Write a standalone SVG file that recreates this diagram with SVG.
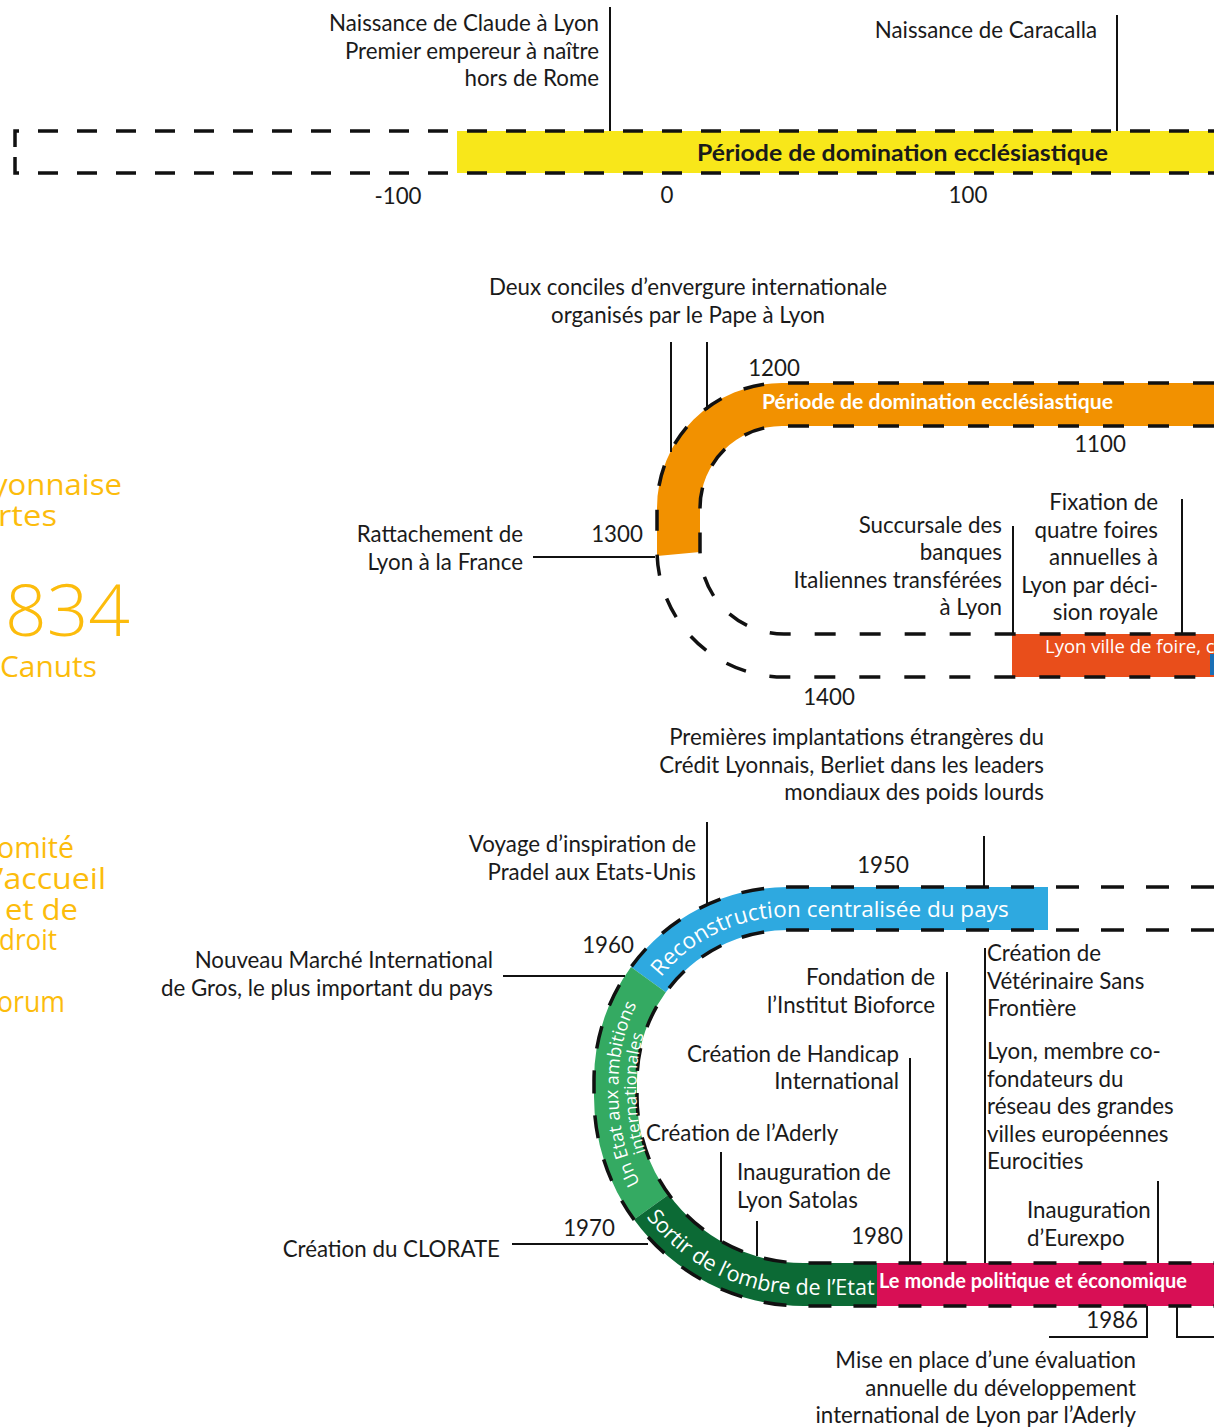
<svg xmlns="http://www.w3.org/2000/svg" width="1214" height="1428" viewBox="0 0 1214 1428">
<style>
.lbl{font-family:Lato,"Liberation Sans",sans-serif;font-size:22.3px;fill:#1a1a1a}
.e{text-anchor:end}
.m{text-anchor:middle}
.bold{font-weight:700}
.wt{font-family:"Open Sans","Liberation Sans",sans-serif;fill:#fff}
.yel{font-family:"Open Sans","Liberation Sans",sans-serif;font-weight:400;fill:#FCBC0C;font-size:29px}
.big{font-size:72px;font-weight:300}
.dA{fill:none;stroke:#111;stroke-width:3.5;stroke-dasharray:20 19}
.dB{fill:none;stroke:#111;stroke-width:3.5;stroke-dasharray:21 24}
.dC{fill:none;stroke:#111;stroke-width:3.5;stroke-dasharray:23 22}
.lead{fill:none;stroke:#111;stroke-width:2}
</style>
<defs>
<path id="p-recon" d="M655.3 984.6 A164 164 0 0 1 788 917 H1060"/>
<path id="p-sortir" d="M643.3 1212.9 A198 198 0 0 0 803.5 1294.5 H880"/>
<path id="p-etat1" d="M661.8 1215.4 A185 185 0 0 1 618.5 1096.5 V1081 A169.5 169.5 0 0 1 658.2 972.1"/>
<path id="p-etat2" d="M674.1 1202.5 A167 167 0 0 1 636.5 1096.5 V1081 A151.5 151.5 0 0 1 672 983.6"/>
</defs>
<rect width="1214" height="1428" fill="#fff"/>

<g id="left-column">
<text class="yel" x="-8" y="495" textLength="130" lengthAdjust="spacingAndGlyphs">yonnaise</text>
<text class="yel" x="-2" y="526" textLength="59" lengthAdjust="spacingAndGlyphs">rtes</text>
<text class="yel big" x="5" y="636" textLength="125" lengthAdjust="spacingAndGlyphs">834</text>
<text class="yel" x="0" y="677" textLength="97" lengthAdjust="spacingAndGlyphs">Canuts</text>
<text class="yel" x="-3" y="858" textLength="77" lengthAdjust="spacingAndGlyphs">omité</text>
<text class="yel" x="-2" y="889" textLength="108" lengthAdjust="spacingAndGlyphs">’accueil</text>
<text class="yel" x="5" y="920" textLength="73" lengthAdjust="spacingAndGlyphs">et de</text>
<text class="yel" x="-1" y="950" textLength="58" lengthAdjust="spacingAndGlyphs">droit</text>
<text class="yel" x="-3" y="1012" textLength="68" lengthAdjust="spacingAndGlyphs">orum</text>
</g>

<g id="band-antiquity">
<rect x="457" y="131" width="757" height="42" fill="#F8E71A"/>
<path class="dA" d="M15 147 V131 H1214"/>
<path class="dA" d="M15 157 V173 H1214"/>
<text class="lbl bold m" x="902.5" y="161" style="font-size:23px" textLength="411" lengthAdjust="spacingAndGlyphs">Période de domination ecclésiastique</text>
</g>

<g id="band-middle-ages">
<path d="M1214 383 H782 A125 125 0 0 0 657 508 V556 L700 552 V508 A82 82 0 0 1 782 426 H1214 Z" fill="#F29100"/>
<rect x="1012" y="634" width="202" height="43" fill="#E94E1B"/>
<rect x="1210" y="654" width="4" height="21" fill="#1B6FB5"/>
<path class="dB" d="M1214 383 H782 A125 125 0 0 0 657 508 V550 A127 127 0 0 0 784 677 H1214"/>
<path class="dB" d="M1214 426 H782 A82 82 0 0 0 700 508 V550 A84 84 0 0 0 784 634 H1214"/>
<text class="lbl bold m" x="937.5" y="409" style="fill:#fff;font-size:20px" textLength="351" lengthAdjust="spacingAndGlyphs">Période de domination ecclésiastique</text>
<text class="wt" x="1045" y="653" font-size="18.5">Lyon ville de foire, c</text>
</g>

<g id="band-modern">
<path d="M1048 887 H788 A194 194 0 0 0 631 967 L665.8 992.2 A151 151 0 0 1 788 930 H1048 Z" fill="#2EA9E0"/>
<path d="M631 967 A194 194 0 0 0 594 1081 V1096.5 A209.5 209.5 0 0 0 634 1219.6 L668.8 1194.4 A166.5 166.5 0 0 1 637 1096.5 V1081 A151 151 0 0 1 665.8 992.2 Z" fill="#34AA62"/>
<path d="M634 1219.6 A209.5 209.5 0 0 0 803.5 1306 H877 V1263 H803.5 A166.5 166.5 0 0 1 668.8 1194.4 Z" fill="#0C6A35"/>
<rect x="877" y="1263" width="337" height="43" fill="#D80F55"/>
<path class="dC" d="M1214 887 H788 A194 194 0 0 0 594 1081 V1096.5 A209.5 209.5 0 0 0 803.5 1306 H1214"/>
<path class="dC" d="M1214 930 H788 A151 151 0 0 0 637 1081 V1096.5 A166.5 166.5 0 0 0 803.5 1263 H1214"/>
<text class="wt" font-size="22.5"><textPath href="#p-recon" startOffset="9">Reconstruction centralisée du pays</textPath></text>
<text class="wt" font-size="18" text-anchor="middle"><textPath href="#p-etat1" startOffset="50%">Un Etat aux ambitions</textPath></text>
<text class="wt" font-size="17" text-anchor="middle"><textPath href="#p-etat2" startOffset="50%">internationales</textPath></text>
<text class="wt" font-size="21.5"><textPath href="#p-sortir" startOffset="5">Sortir de l’ombre de l’Etat</textPath></text>
<text class="lbl bold" x="879" y="1288" style="fill:#fff;font-size:20px" textLength="308" lengthAdjust="spacingAndGlyphs">Le monde politique et économique</text>
</g>

<g id="connectors">
<path class="lead" d="M610 7 V131"/>
<path class="lead" d="M1117 15 V131"/>
<path class="lead" d="M671 342 V452"/>
<path class="lead" d="M707 342 V410"/>
<path class="lead" d="M533 557 H655"/>
<path class="lead" d="M1013 526 V634"/>
<path class="lead" d="M1182 499 V634"/>
<path class="lead" d="M984 836 V887"/>
<path class="lead" d="M707 822 V905"/>
<path class="lead" d="M503 976 H625"/>
<path class="lead" d="M947 972 V1263"/>
<path class="lead" d="M985 948 V1263"/>
<path class="lead" d="M910 1058 V1263"/>
<path class="lead" d="M721 1152 V1242"/>
<path class="lead" d="M757 1221 V1256"/>
<path class="lead" d="M512 1244 H648"/>
<path class="lead" d="M1158 1181 V1263"/>
<path class="lead" d="M1049 1337 H1147 V1306"/>
<path class="lead" d="M1177 1306 V1337 H1214"/>
</g>

<g id="ev-claude"><text class="lbl e" x="599" y="31">Naissance de Claude à Lyon</text><text class="lbl e" x="599" y="59">Premier empereur à naître</text><text class="lbl e" x="599" y="86">hors de Rome</text></g>
<g id="ev-caracalla"><text class="lbl e" x="1097" y="38">Naissance de Caracalla</text></g>
<g id="axis-top"><text class="lbl m" x="398" y="204">-100</text><text class="lbl m" x="667" y="203">0</text><text class="lbl m" x="968" y="203">100</text></g>

<g id="ev-conciles"><text class="lbl m" x="688" y="295">Deux conciles d’envergure internationale</text><text class="lbl m" x="688" y="323">organisés par le Pape à Lyon</text></g>
<g id="axis-middle"><text class="lbl m" x="774" y="376">1200</text><text class="lbl m" x="1100" y="452">1100</text><text class="lbl m" x="617" y="542">1300</text><text class="lbl m" x="829" y="705">1400</text></g>
<g id="ev-rattachement"><text class="lbl e" x="523" y="542">Rattachement de</text><text class="lbl e" x="523" y="570">Lyon à la France</text></g>
<g id="ev-succursale"><text class="lbl e" x="1002" y="533">Succursale des</text><text class="lbl e" x="1002" y="560">banques</text><text class="lbl e" x="1002" y="588">Italiennes transférées</text><text class="lbl e" x="1002" y="615">à Lyon</text></g>
<g id="ev-foires"><text class="lbl e" x="1158" y="510">Fixation de</text><text class="lbl e" x="1158" y="538">quatre foires</text><text class="lbl e" x="1158" y="565">annuelles à</text><text class="lbl e" x="1158" y="593">Lyon par déci-</text><text class="lbl e" x="1158" y="620">sion royale</text></g>

<g id="ev-implantations"><text class="lbl e" x="1044" y="745">Premières implantations étrangères du</text><text class="lbl e" x="1044" y="773">Crédit Lyonnais, Berliet dans les leaders</text><text class="lbl e" x="1044" y="800">mondiaux des poids lourds</text></g>
<g id="ev-pradel"><text class="lbl e" x="696" y="852">Voyage d’inspiration de</text><text class="lbl e" x="696" y="880">Pradel aux Etats-Unis</text></g>
<g id="axis-bottom"><text class="lbl m" x="883" y="873">1950</text><text class="lbl m" x="608" y="953">1960</text><text class="lbl m" x="589" y="1236">1970</text><text class="lbl m" x="877" y="1244">1980</text><text class="lbl e" x="1138" y="1328">1986</text></g>
<g id="ev-marche"><text class="lbl e" x="493" y="968">Nouveau Marché International</text><text class="lbl e" x="493" y="996">de Gros, le plus important du pays</text></g>
<g id="ev-bioforce"><text class="lbl e" x="935" y="985">Fondation de</text><text class="lbl e" x="935" y="1013">l’Institut Bioforce</text></g>
<g id="ev-vsf"><text class="lbl" x="987" y="961">Création de</text><text class="lbl" x="987" y="989">Vétérinaire Sans</text><text class="lbl" x="987" y="1016">Frontière</text></g>
<g id="ev-eurocities"><text class="lbl" x="987" y="1059">Lyon, membre co-</text><text class="lbl" x="987" y="1087">fondateurs du</text><text class="lbl" x="987" y="1114">réseau des grandes</text><text class="lbl" x="987" y="1142">villes européennes</text><text class="lbl" x="987" y="1169">Eurocities</text></g>
<g id="ev-handicap"><text class="lbl e" x="899" y="1062">Création de Handicap</text><text class="lbl e" x="899" y="1089">International</text></g>
<g id="ev-aderly"><text class="lbl" x="646" y="1141">Création de l’Aderly</text></g>
<g id="ev-satolas"><text class="lbl" x="737" y="1180">Inauguration de</text><text class="lbl" x="737" y="1208">Lyon Satolas</text></g>
<g id="ev-clorate"><text class="lbl e" x="500" y="1257">Création du CLORATE</text></g>
<g id="ev-eurexpo"><text class="lbl" x="1027" y="1218">Inauguration</text><text class="lbl" x="1027" y="1246">d’Eurexpo</text></g>
<g id="ev-evaluation"><text class="lbl e" x="1136" y="1368">Mise en place d’une évaluation</text><text class="lbl e" x="1136" y="1396">annuelle du développement</text><text class="lbl e" x="1136" y="1423">international de Lyon par l’Aderly</text></g>
</svg>
